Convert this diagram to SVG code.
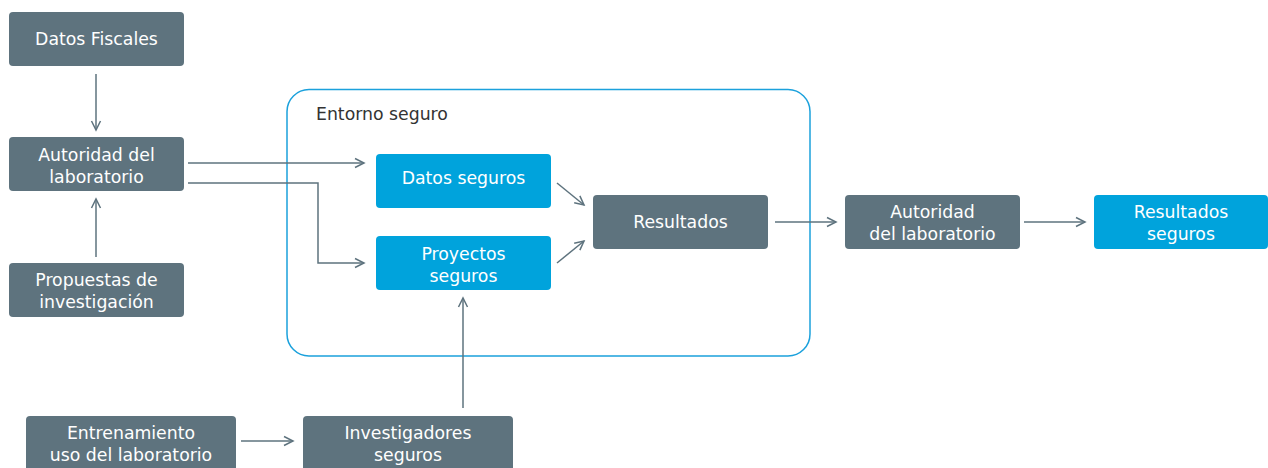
<svg xmlns="http://www.w3.org/2000/svg" width="1268" height="468" viewBox="0 0 1268 468">
<defs>
<style>
.g{fill:#5e737e}
.b{fill:#00a3dc}
.t{font-family:"DejaVu Sans","Open Sans",sans-serif;font-size:17.3px;fill:#ffffff;text-anchor:middle}
.c{fill:none;stroke:#5e737e;stroke-width:1.5}
</style>
<marker id="ah" viewBox="0 0 12 12" refX="10" refY="6" markerWidth="12" markerHeight="12" markerUnits="userSpaceOnUse" orient="auto">
<path d="M1,1.5 L10,6 L1,10.5" fill="none" stroke="#5e737e" stroke-width="1.5"/>
</marker>
</defs>
<rect width="1268" height="468" fill="#ffffff"/>
<g id="container">
<rect x="287" y="89.5" width="523" height="266.5" rx="22" fill="none" stroke="#1ba1dc" stroke-width="1.5"/>
<text x="316" y="120" font-family="DejaVu Sans, Open Sans, sans-serif" font-size="17.3" fill="#333333">Entorno seguro</text>
</g>
<g id="connectors">
<line class="c" x1="96" y1="74" x2="96" y2="130" marker-end="url(#ah)"/>
<line class="c" x1="96" y1="257" x2="96" y2="199" marker-end="url(#ah)"/>
<line class="c" x1="188" y1="163" x2="364" y2="163" marker-end="url(#ah)"/>
<polyline class="c" points="188,183 318,183 318,263 364,263" marker-end="url(#ah)"/>
<line class="c" x1="557" y1="183" x2="584" y2="205" marker-end="url(#ah)"/>
<line class="c" x1="557" y1="263" x2="584" y2="241" marker-end="url(#ah)"/>
<line class="c" x1="775" y1="222" x2="836" y2="222" marker-end="url(#ah)"/>
<line class="c" x1="1024" y1="222" x2="1085" y2="222" marker-end="url(#ah)"/>
<line class="c" x1="241" y1="441" x2="293" y2="441" marker-end="url(#ah)"/>
<line class="c" x1="463" y1="408" x2="463" y2="298" marker-end="url(#ah)"/>
</g>
<g id="datos-fiscales"><rect class="g" x="9" y="12" width="175" height="54" rx="4"/><text class="t" x="96.5" y="45">Datos Fiscales</text></g>
<g id="autoridad-izq"><rect class="g" x="9" y="137" width="175" height="54" rx="4"/><text class="t" x="96.5" y="161">Autoridad del</text><text class="t" x="96.5" y="183">laboratorio</text></g>
<g id="propuestas"><rect class="g" x="9" y="263" width="175" height="54" rx="4"/><text class="t" x="96.5" y="286">Propuestas de</text><text class="t" x="96.5" y="308">investigación</text></g>
<g id="datos-seguros"><rect class="b" x="376" y="154" width="175" height="54" rx="4"/><text class="t" x="463.5" y="184">Datos seguros</text></g>
<g id="proyectos-seguros"><rect class="b" x="376" y="236" width="175" height="54" rx="4"/><text class="t" x="463.5" y="260">Proyectos</text><text class="t" x="463.5" y="282">seguros</text></g>
<g id="resultados"><rect class="g" x="593" y="195" width="175" height="54" rx="4"/><text class="t" x="680.5" y="228">Resultados</text></g>
<g id="autoridad-der"><rect class="g" x="845" y="195" width="175" height="54" rx="4"/><text class="t" x="932.5" y="218">Autoridad</text><text class="t" x="932.5" y="240">del laboratorio</text></g>
<g id="resultados-seguros"><rect class="b" x="1094" y="195" width="174" height="54" rx="4"/><text class="t" x="1181" y="218">Resultados</text><text class="t" x="1181" y="240">seguros</text></g>
<g id="entrenamiento"><rect class="g" x="26" y="416" width="210" height="56" rx="4"/><text class="t" x="131" y="439">Entrenamiento</text><text class="t" x="131" y="461">uso del laboratorio</text></g>
<g id="investigadores"><rect class="g" x="303" y="416" width="210" height="56" rx="4"/><text class="t" x="408" y="439">Investigadores</text><text class="t" x="408" y="461">seguros</text></g>
</svg>
